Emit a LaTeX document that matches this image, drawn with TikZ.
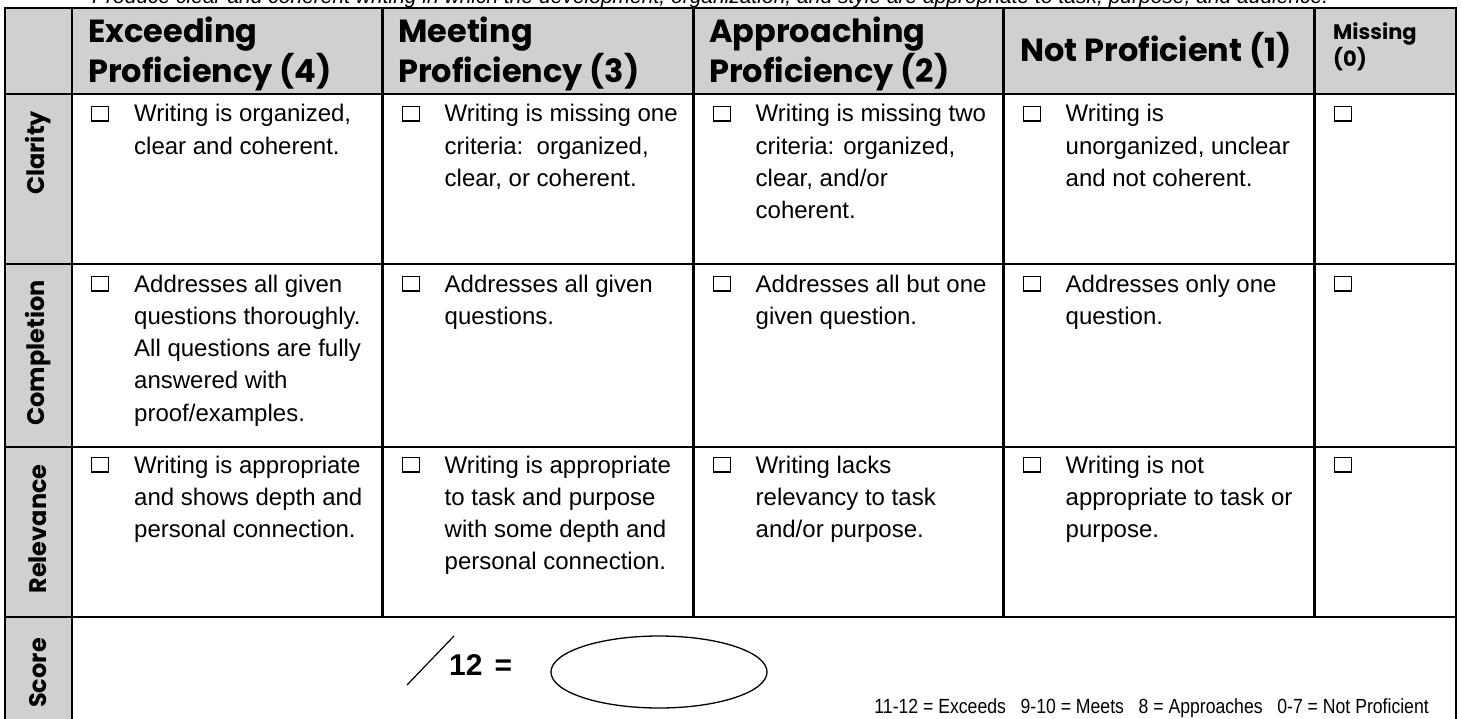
\documentclass[tikz,border=0pt]{standalone}
\usepackage{fontspec}
\setmainfont{Liberation Sans}
\newfontfamily\hfont{Poppins}
\newfontfamily\nfont{Liberation Sans}[FakeStretch=0.86]
\usetikzlibrary{shapes.geometric}
\definecolor{cellgray}{RGB}{208,208,208}
\newcommand\rubcell[1]{\begin{tabular}[t]{@{}l@{}}#1\end{tabular}}
\begin{document}
\begin{tikzpicture}[x=1pt,y=-1pt,
  grid/.style={line width=2.2pt,line cap=rect},
  bodytxt/.style={font=\fontsize{24}{32.3}\selectfont,inner sep=0pt,anchor=base west},
  hdrtxt/.style={font=\hfont\bfseries\fontsize{32}{35}\selectfont,inner sep=0pt,anchor=base west},
  sidetxt/.style={font=\hfont\bfseries\fontsize{24}{24}\selectfont,inner sep=0pt,rotate=90,anchor=center},
  chk/.style={draw,line width=1.2pt,minimum width=17pt,minimum height=15pt,inner sep=0pt,anchor=south west,
    path picture={\draw[line width=3.2pt] (path picture bounding box.south west) -- (path picture bounding box.south east);}}
]
\useasboundingbox (0,0) rectangle (1461,719);
\clip (0,0) rectangle (1461,719);

% top italic standard (cut off)
\node[anchor=base west,inner sep=0pt,font=\fontsize{21}{21}\selectfont\itshape] (intro) at (92,4)
  {Produce clear and coherent writing in which the development, organization, and style are appropriate to task, purpose, and audience.};

% fills
\fill[cellgray] (5,8) rectangle (1456,94);
\fill[cellgray] (5,94) rectangle (72,719);

% grid
\draw[grid] (5,8) -- (1456,8);
\draw[grid] (5,94) -- (1456,94);
\draw[grid] (5,264) -- (1456,264);
\draw[grid] (5,447) -- (1456,447);
\draw[grid] (5,617) -- (1456,617);
\draw[grid] (5,8) -- (5,725);
\draw[grid] (72,8) -- (72,725);
\draw[grid] (382.5,8) -- (382.5,617);
\draw[grid] (693.5,8) -- (693.5,617);
\draw[grid] (1003.5,8) -- (1003.5,617);
\draw[grid] (1314.5,8) -- (1314.5,617);
\draw[grid] (1456,8) -- (1456,725);

% headers
\node[hdrtxt] (h1) at (88,43) {\rubcell{Exceeding\\Proficiency (4)}};
\node[hdrtxt] (h2) at (398,43) {\rubcell{Meeting\\Proficiency (3)}};
\node[hdrtxt] (h3) at (709,43) {\rubcell{Approaching\\Proficiency (2)}};
\node[hdrtxt] (h4) at (1020,62) {Not Proficient (1)};
\node[font=\hfont\bfseries\fontsize{21}{23}\selectfont,inner sep=0pt,anchor=base west] (h5) at (1333,40) {\rubcell{Missing\\(0)}};

% side labels
\node[sidetxt] (sClar) at (38,153) {Clarity};
\node[sidetxt] (sComp) at (38,353) {Completion};
\node[sidetxt] (sRel) at (38,529) {Relevance};
\node[sidetxt] (sScore) at (38,673) {Score};

% Clarity row
\node[chk] (k11) at (91,122) {};
\node[bodytxt] (t11) at (134,122) {\rubcell{Writing is organized,\\clear and coherent.}};
\node[chk] (k12) at (401.5,122) {};
\node[bodytxt] (t12) at (444.5,122) {\rubcell{Writing is missing one\\criteria:\ \ organized,\\clear, or coherent.}};
\node[chk] (k13) at (712.5,122) {};
\node[bodytxt] (t13) at (755.5,122) {\rubcell{Writing is missing two\\criteria: organized,\\clear, and/or\\coherent.}};
\node[chk] (k14) at (1022.5,122) {};
\node[bodytxt] (t14) at (1065.5,122) {\rubcell{Writing is\\unorganized, unclear\\and not coherent.}};
\node[chk] (k15) at (1333.5,122) {};

% Completion row
\node[chk] (k21) at (91,292) {};
\node[bodytxt] (t21) at (134,292) {\rubcell{Addresses all given\\questions thoroughly.\\All questions are fully\\answered with\\proof/examples.}};
\node[chk] (k22) at (401.5,292) {};
\node[bodytxt] (t22) at (444.5,292) {\rubcell{Addresses all given\\questions.}};
\node[chk] (k23) at (712.5,292) {};
\node[bodytxt] (t23) at (755.5,292) {\rubcell{Addresses all but one\\given question.}};
\node[chk] (k24) at (1022.5,292) {};
\node[bodytxt] (t24) at (1065.5,292) {\rubcell{Addresses only one\\question.}};
\node[chk] (k25) at (1333.5,292) {};

% Relevance row
\node[chk] (k31) at (91,473) {};
\node[bodytxt] (t31) at (134,473) {\rubcell{Writing is appropriate\\and shows depth and\\personal connection.}};
\node[chk] (k32) at (401.5,473) {};
\node[bodytxt] (t32) at (444.5,473) {\rubcell{Writing is appropriate\\to task and purpose\\with some depth and\\personal connection.}};
\node[chk] (k33) at (712.5,473) {};
\node[bodytxt] (t33) at (755.5,473) {\rubcell{Writing lacks\\relevancy to task\\and/or purpose.}};
\node[chk] (k34) at (1022.5,473) {};
\node[bodytxt] (t34) at (1065.5,473) {\rubcell{Writing is not\\appropriate to task or\\purpose.}};
\node[chk] (k35) at (1333.5,473) {};

% Score row
\coordinate (slashA) at (407,685);
\coordinate (slashB) at (454,636);
\draw[line width=1.2pt] (slashA) -- (slashB);
\node[anchor=base west,inner sep=0pt,font=\bfseries\fontsize{30}{30}\selectfont] (twelve) at (449,675) {12\hspace{12pt}=};
\node[ellipse,draw,line width=1.3pt,minimum width=216pt,minimum height=72pt,inner sep=0pt] (oval) at (659,672) {};
\node[anchor=base east,inner sep=0pt,font=\nfont\fontsize{20.5}{20.5}\selectfont] (legend) at (1429,713)
  {11-12 = Exceeds\ \ \ 9-10 = Meets\ \ \ 8 = Approaches\ \ \ 0-7 = Not Proficient};
\end{tikzpicture}
\end{document}
